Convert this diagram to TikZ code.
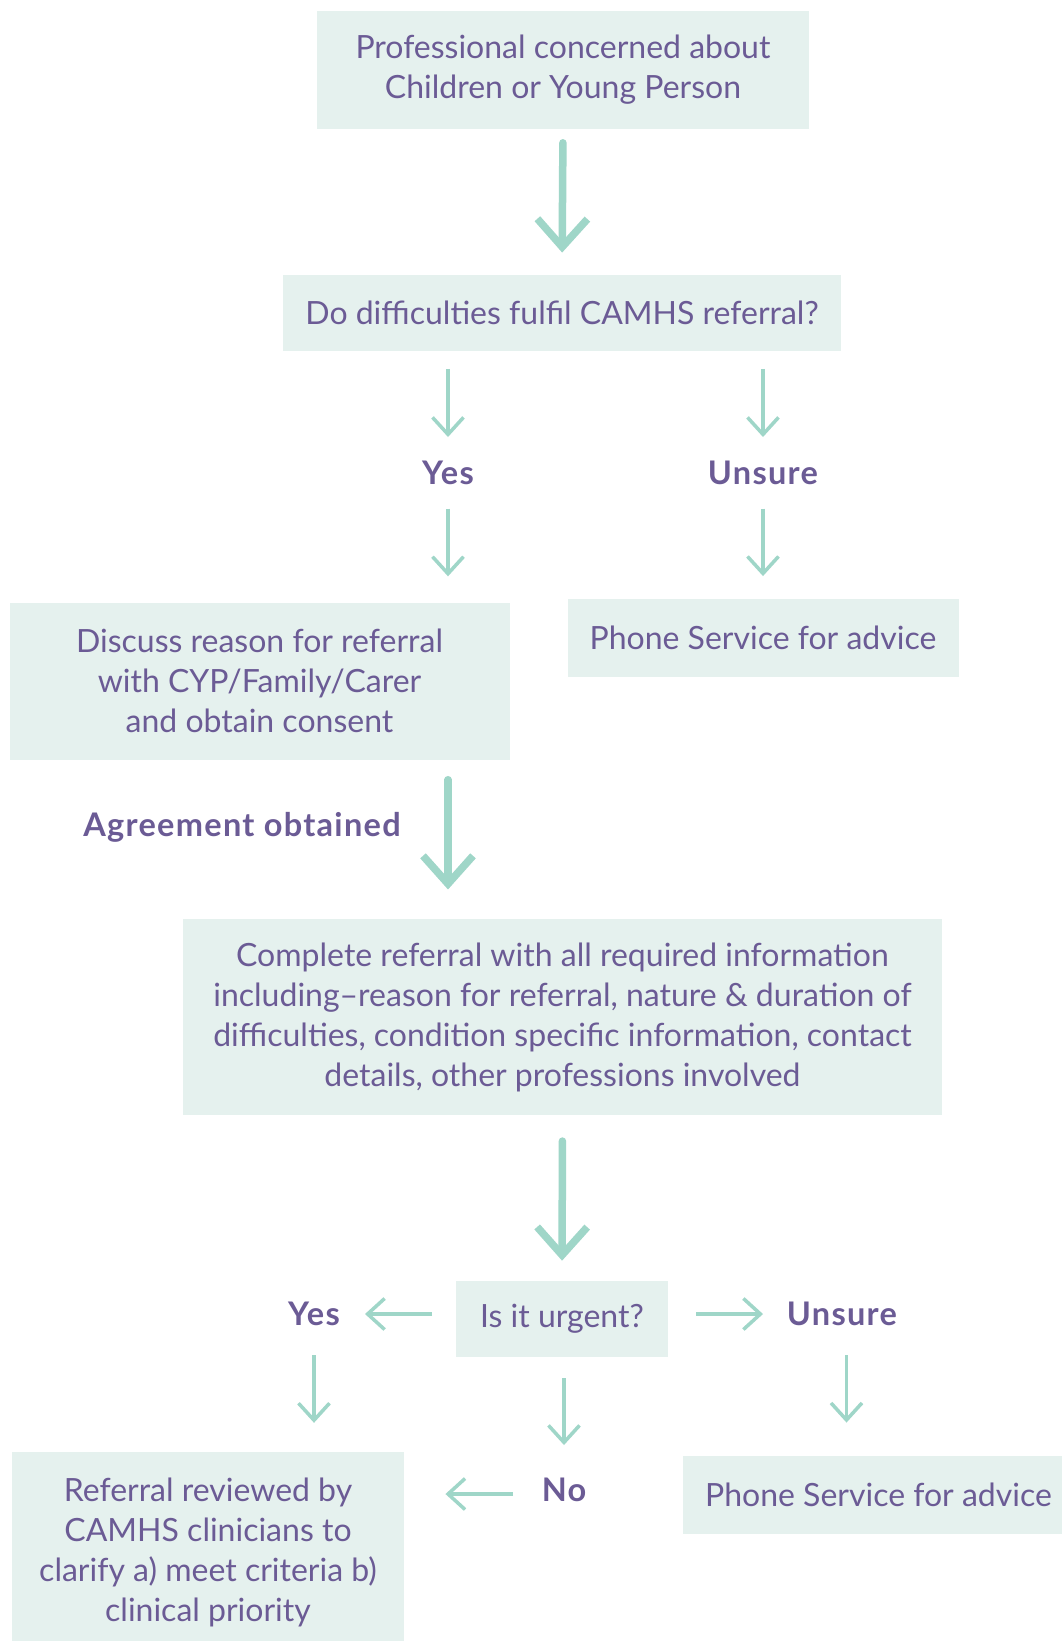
\documentclass[tikz,border=0pt]{standalone}
\usepackage{fontspec}
\setmainfont{Lato}
\newfontfamily\lblfont[LetterSpace=4.0]{Lato}
\usetikzlibrary{arrows.meta}
\definecolor{boxfill}{RGB}{229,241,238}
\definecolor{txtpurple}{RGB}{107,91,149}
\definecolor{arrowgreen}{RGB}{159,214,200}
\begin{document}
\begin{tikzpicture}[x=1pt,y=1pt,
  box/.style={fill=boxfill,draw=none,text=txtpurple,align=center,inner sep=0pt,
    font=\fontsize{32}{40}\selectfont},
  lbl/.style={text=txtpurple,inner sep=0pt,font=\lblfont\bfseries\fontsize{32.5}{40}\selectfont},
  thickarrow/.style={draw=arrowgreen,line width=7.5pt,line cap=round,
    -{Straight Barb[length=28pt,width=50pt,line width=7.5pt]}},
  thinarrow/.style={draw=arrowgreen,line width=3.5pt,
    -{Straight Barb[length=17pt,width=31pt,line width=3.5pt]}}
]
\useasboundingbox (0,0) rectangle (1062,-1641);
\fill[white] (0,0) rectangle (1062,-1641);

\node[box,minimum width=492pt,minimum height=118pt] (b1) at (563,-69.6)
  {Professional concerned about\\Children or Young Person};
\node[box,minimum width=558.5pt,minimum height=76.5pt] (b2) at (562,-313)
  {Do difficulties fulfil CAMHS referral?};
\node[lbl] (yes1) at (448,-473) {Yes};
\node[lbl] (uns1) at (763,-473) {Unsure};
\node[box,minimum width=500pt,minimum height=157pt] (b3) at (259.5,-681)
  {Discuss reason for referral\\with CYP/Family/Carer\\and obtain consent};
\node[box,minimum width=391pt,minimum height=77.5pt] (b4) at (763,-638)
  {Phone Service for advice};
\node[lbl] (agree) at (242,-827) {Agreement obtained};
\node[box,minimum width=758.7pt,minimum height=196.7pt] (b5) at (562.5,-1017)
  {Complete referral with all required information\\including--reason for referral, nature \& duration of\\difficulties, condition specific information, contact\\details, other professions involved};
\node[box,minimum width=211.5pt,minimum height=76.3pt] (b6) at (562,-1319)
  {Is it urgent?};
\node[lbl] (yes2) at (314,-1314) {Yes};
\node[lbl] (uns2) at (842,-1314) {Unsure};
\node[lbl] (no) at (564,-1490) {No};
\node[box,minimum width=392.5pt,minimum height=201pt] (b7) at (208,-1552.5)
  {Referral reviewed by\\CAMHS clinicians to\\clarify a) meet criteria b)\\clinical priority};
\node[box,minimum width=379pt,minimum height=77.5pt] (b8) at (872.5,-1495)
  {\hspace*{12pt}Phone Service for advice};

% connectors
\draw[thickarrow,shorten <=14pt,shorten >=22pt] (b1.south) -- (b2.north);
\draw[thinarrow,shorten <=17.5pt,shorten >=36pt] (b2.south -| yes1) -- (yes1.center);
\draw[thinarrow,shorten <=17.5pt,shorten >=36pt] (b2.south -| uns1) -- (uns1.center);
\draw[thinarrow,shorten <=35.5pt,shorten >=26pt] (yes1.center) -- (yes1 |- b3.north);
\draw[thinarrow,shorten <=35.5pt,shorten >=23pt] (uns1.center) -- (b4.north);
\draw[thickarrow,shorten <=20pt,shorten >=29pt] (b3.south -| yes1) -- (yes1 |- b5.north);
\draw[thickarrow,shorten <=25.5pt,shorten >=20pt] (b5.south) -- (b6.north);
\draw[thinarrow,shorten <=24pt,shorten >=51pt] (b6.west |- yes2) -- (yes2.center);
\draw[thinarrow,shorten <=28.5pt,shorten >=79pt] (b6.east |- uns2) -- (uns2.center);
\draw[thinarrow,shorten <=41pt,shorten >=29pt] (yes2.center) -- (yes2 |- b7.north);
\draw[thinarrow,shorten <=21pt,shorten >=45pt] (b6.south -| no) -- (no.center);
\draw[thinarrow,shorten <=41pt,shorten >=33.5pt] ([xshift=4.5pt]uns2.center) -- ([xshift=4.5pt]uns2 |- b8.north);
\draw[thinarrow,shorten <=51pt,shorten >=41pt] ([yshift=-4pt]no.center) -- ([yshift=-4pt]no -| b7.east);
\end{tikzpicture}
\end{document}
